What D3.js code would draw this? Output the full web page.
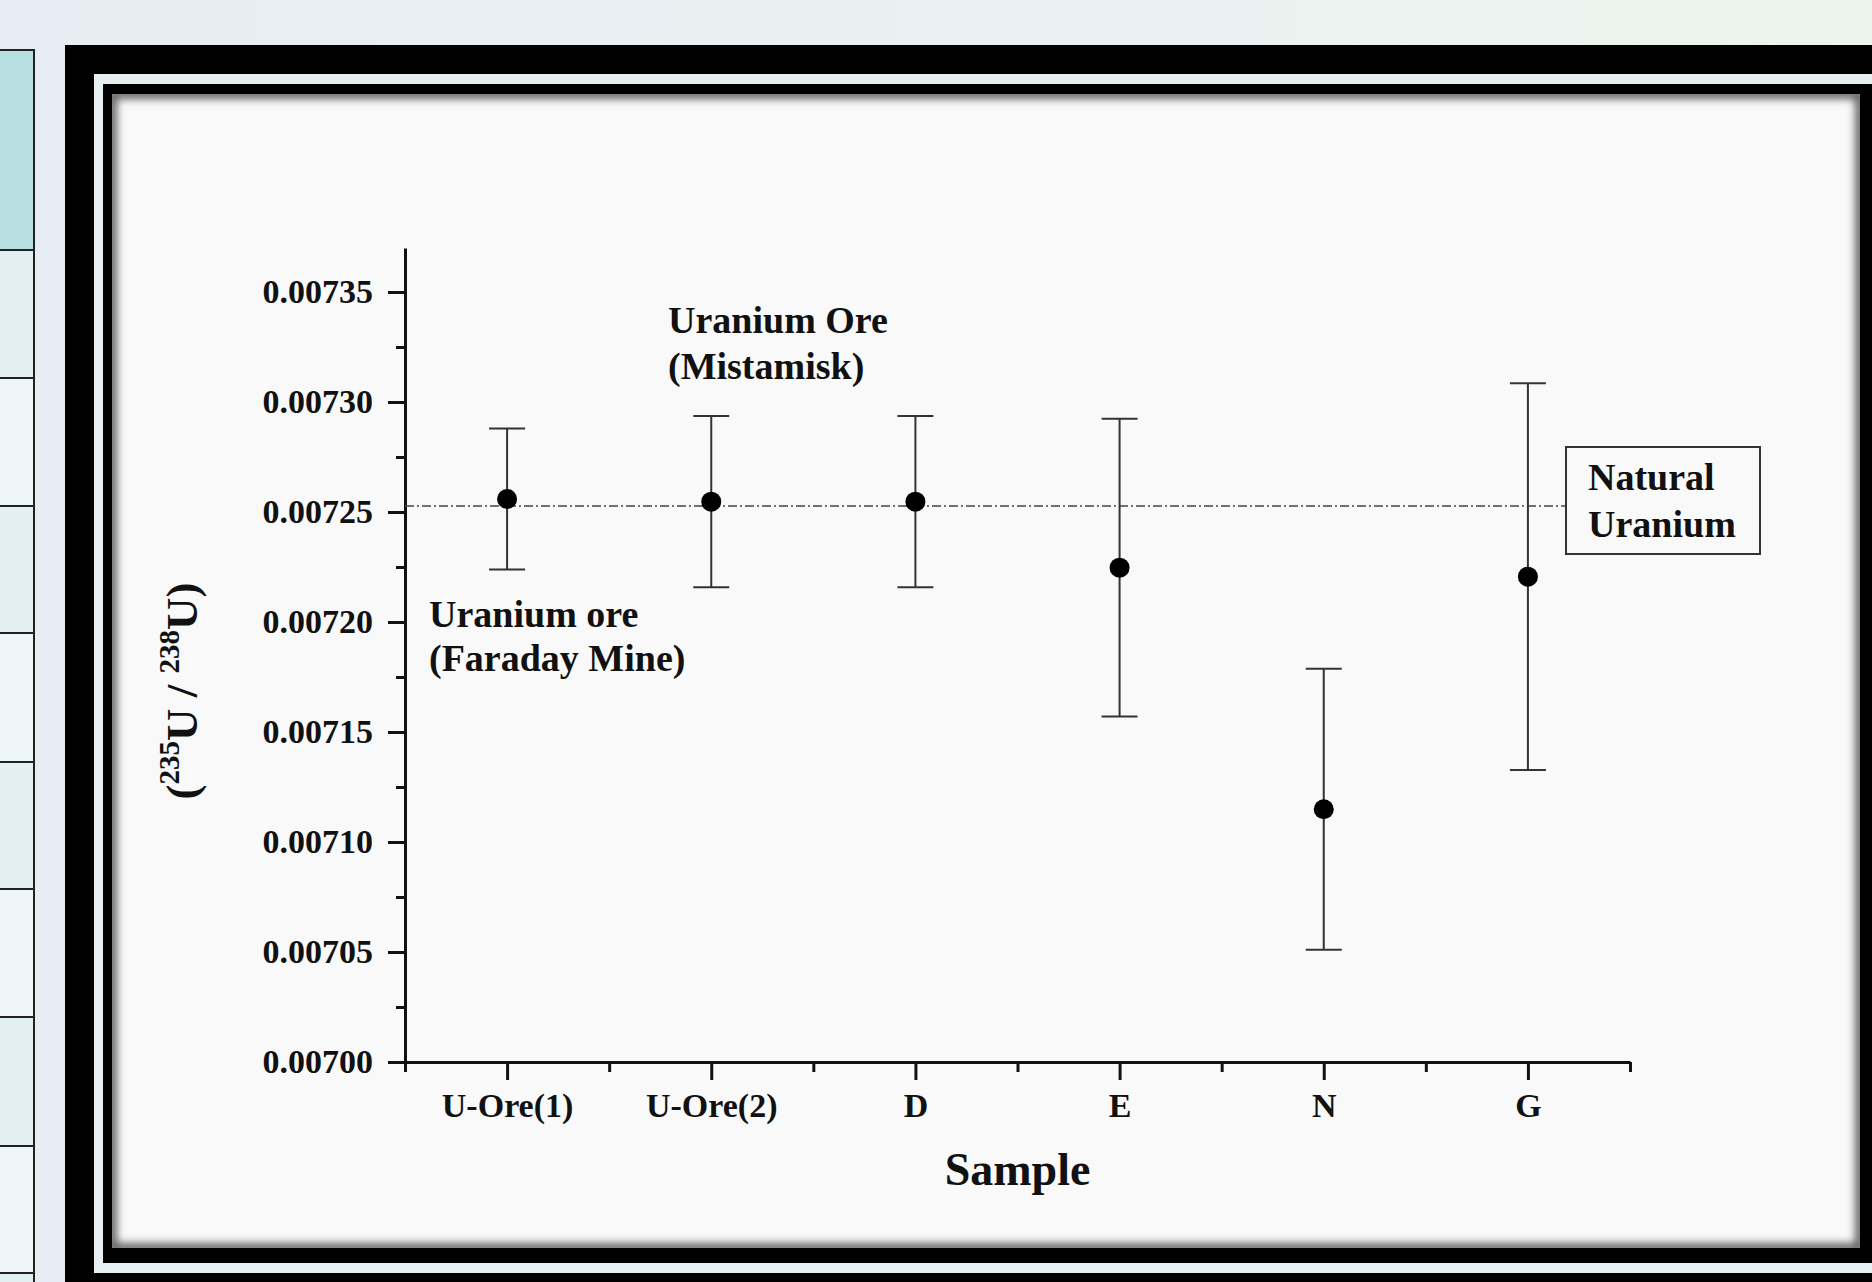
<!DOCTYPE html>
<html lang="en">
<head>
<meta charset="utf-8" />
<title>235U / 238U ratio by sample</title>
<script src="https://d3js.org/d3.v7.min.js"></script>
<style>
	body { margin: 0; padding: 0; overflow: hidden; }
	svg { display: block; }
	text { font-family: 'Liberation Serif', 'Times New Roman', serif; font-weight: bold; fill: #111; }
</style>
</head>
<body>
<div id="chart"></div>
<script>
// data
const samples = ["U-Ore(1)", "U-Ore(2)", "D", "E", "N", "G"];
const ratio = [0.0072559, 0.0072547, 0.0072547, 0.0072247, 0.0071149, 0.0072206];
const ratioErr = [0.0000320, 0.0000389, 0.0000389, 0.0000677, 0.0000639, 0.0000879];
const naturalRatio = 0.0072527;
const yTicks = [0.00700, 0.00705, 0.00710, 0.00715, 0.00720, 0.00725, 0.00730, 0.00735];
const yMinorTicks = [0.007025, 0.007075, 0.007125, 0.007175, 0.007225, 0.007275, 0.007325];
const xMinorTicks = [0.5, 1.5, 2.5, 3.5, 4.5, 5.5, 6.5];

const W = 1872, H = 1282;
const svg = d3.select("#chart").append("svg").attr("width", W).attr("height", H);
const defs = svg.append("defs");

// slide background
const bg = defs.append("linearGradient").attr("id", "bg");
bg.append("stop").attr("offset", "0%").attr("stop-color", "#e7edf4");
bg.append("stop").attr("offset", "100%").attr("stop-color", "#edf4ee");
svg.append("rect").attr("width", W).attr("height", H).attr("fill", "url(#bg)");

// table strip on the left edge of the slide
const rowLines = [250, 378, 506, 633, 762, 889, 1017, 1146, 1273, 1400];
svg.append("rect").attr("x", 0).attr("y", 50).attr("width", 34).attr("height", 200).attr("fill", "#b8dfe1");
rowLines.slice(0, -1).forEach((r, i) => {
	svg.append("rect").attr("x", 0).attr("y", r).attr("width", 34).attr("height", rowLines[i + 1] - r)
		.attr("fill", i % 2 ? "#eef5f8" : "#e2f0f2");
});
svg.append("line").attr("x1", 0).attr("x2", 35).attr("y1", 50).attr("y2", 50).attr("stroke", "#222").attr("stroke-width", 2);
rowLines.forEach(r => svg.append("line").attr("x1", 0).attr("x2", 35).attr("y1", r).attr("y2", r).attr("stroke", "#222").attr("stroke-width", 2));
svg.append("line").attr("x1", 34).attr("x2", 34).attr("y1", 49).attr("y2", H).attr("stroke", "#222").attr("stroke-width", 2);

// picture frame
svg.append("rect").attr("x", 65).attr("y", 45).attr("width", W).attr("height", H).attr("fill", "#000");
svg.append("rect").attr("x", 94).attr("y", 74).attr("width", W).attr("height", 1199).attr("fill", "#e8eff1");
svg.append("rect").attr("x", 103).attr("y", 84).attr("width", W).attr("height", 1179).attr("fill", "#000");
svg.append("rect").attr("x", 112).attr("y", 94).attr("width", 1748).attr("height", 1154).attr("fill", "#f9f9f9");

// soft inner shadow on the picture
defs.append("clipPath").attr("id", "panelClip")
	.append("rect").attr("x", 112).attr("y", 94).attr("width", 1748).attr("height", 1154);
defs.append("filter").attr("id", "blur").attr("x", "-5%").attr("y", "-5%").attr("width", "110%").attr("height", "110%")
	.append("feGaussianBlur").attr("stdDeviation", 4);
svg.append("g").attr("clip-path", "url(#panelClip)")
	.append("rect").attr("x", 112).attr("y", 94).attr("width", 1748).attr("height", 1154)
	.attr("fill", "none").attr("stroke", "#555").attr("stroke-width", 9).attr("filter", "url(#blur)");

// scales
const x = d3.scaleLinear().domain([0.5, 6.5]).range([405, 1630]);
const y = d3.scaleLinear().domain([0.00700, 0.00737]).range([1062, 248]);

// axes
svg.append("g").attr("transform", `translate(${x(0.5)},0)`)
	.call(d3.axisLeft(y).tickValues(yTicks).tickFormat(d3.format(".5f")).tickSizeInner(17).tickSizeOuter(0).tickPadding(15));
svg.append("g").attr("transform", `translate(${x(0.5)},0)`)
	.call(d3.axisLeft(y).tickValues(yMinorTicks).tickFormat("").tickSize(9))
	.select(".domain").remove();

svg.append("g").attr("transform", `translate(0,${y(0.007)})`)
	.call(d3.axisBottom(x).tickValues([1, 2, 3, 4, 5, 6]).tickFormat(i => samples[i - 1]).tickSizeInner(18).tickSizeOuter(0).tickPadding(13));
svg.append("g").attr("transform", `translate(0,${y(0.007)})`)
	.call(d3.axisBottom(x).tickValues(xMinorTicks).tickFormat("").tickSize(10))
	.select(".domain").remove();

svg.selectAll(".domain, .tick line").attr("stroke", "#111").attr("stroke-width", 3);
svg.selectAll(".tick text").attr("font-family", null).attr("font-size", 34).attr("fill", "#111");

// axis titles
svg.append("text").attr("x", (x(0.5) + x(6.5)) / 2).attr("y", 1185)
	.attr("text-anchor", "middle").attr("font-size", 46).text("Sample");

const yt = svg.append("text").attr("transform", "translate(197,691) rotate(-90)")
	.attr("text-anchor", "middle").attr("font-size", 45);
yt.append("tspan").text("(");
yt.append("tspan").attr("font-size", 29).attr("dy", -18).text("235");
yt.append("tspan").attr("dy", 18).text("U / ");
yt.append("tspan").attr("font-size", 29).attr("dy", -18).text("238");
yt.append("tspan").attr("dy", 18).text("U)");

// natural uranium reference line and its label box
const boxX = 1566;
svg.append("line").attr("x1", x(0.5)).attr("x2", boxX)
	.attr("y1", y(naturalRatio)).attr("y2", y(naturalRatio))
	.attr("stroke", "#444").attr("stroke-width", 1.5).attr("stroke-dasharray", "9,3,2,3");
svg.append("rect").attr("x", boxX).attr("y", 447).attr("width", 194).attr("height", 107)
	.attr("fill", "none").attr("stroke", "#333").attr("stroke-width", 2);
svg.append("text").attr("x", boxX + 22).attr("y", 490).attr("font-size", 38).text("Natural");
svg.append("text").attr("x", boxX + 22).attr("y", 537).attr("font-size", 38).text("Uranium");

// error bars and points
const pts = svg.append("g").selectAll("g").data(samples).join("g");
pts.append("line")
	.attr("x1", (d, i) => x(i + 1)).attr("x2", (d, i) => x(i + 1))
	.attr("y1", (d, i) => y(ratio[i] + ratioErr[i])).attr("y2", (d, i) => y(ratio[i] - ratioErr[i]))
	.attr("stroke", "#333").attr("stroke-width", 2);
[1, -1].forEach(s => {
	pts.append("line")
		.attr("x1", (d, i) => x(i + 1) - 18).attr("x2", (d, i) => x(i + 1) + 18)
		.attr("y1", (d, i) => y(ratio[i] + s * ratioErr[i])).attr("y2", (d, i) => y(ratio[i] + s * ratioErr[i]))
		.attr("stroke", "#333").attr("stroke-width", 2);
});
pts.append("circle")
	.attr("cx", (d, i) => x(i + 1)).attr("cy", (d, i) => y(ratio[i]))
	.attr("r", 10).attr("fill", "#000");

// annotations
svg.append("text").attr("x", 668).attr("y", 333).attr("font-size", 38).text("Uranium Ore");
svg.append("text").attr("x", 668).attr("y", 379).attr("font-size", 38).text("(Mistamisk)");
svg.append("text").attr("x", 429).attr("y", 627).attr("font-size", 38).text("Uranium ore");
svg.append("text").attr("x", 429).attr("y", 671).attr("font-size", 38).text("(Faraday Mine)");
</script>
</body>
</html>
